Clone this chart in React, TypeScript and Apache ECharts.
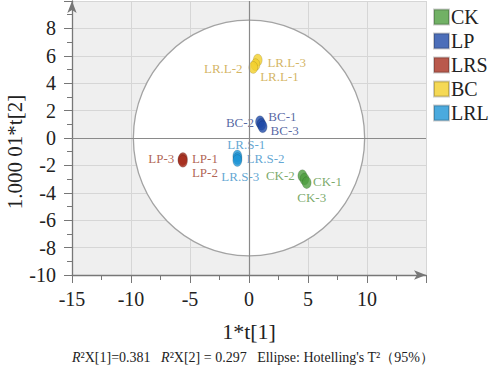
import React, { useEffect, useRef } from "react";
import * as echarts from "echarts";

const FONT = "Liberation Serif";

// Legend entries (as printed in the reference legend)
const legendNames = ["CK", "LP", "LRS", "BC", "LRL"];

// Score points per legend series
const ckNames = ["CK-2", "CK-1", "CK-3"];
const ckX = [4.52, 4.7, 4.89];
const ckY = [-2.75, -3.0, -3.26];

const lpNames = ["BC-2", "BC-1", "BC-3"];
const lpX = [0.93, 1.05, 1.16];
const lpY = [1.19, 1.0, 0.82];

const lrsNames = ["LP-1", "LP-3", "LP-2"];
const lrsX = [-5.6, -5.65, -5.6];
const lrsY = [-1.5, -1.6, -1.7];

const bcNames = ["LR.L-3", "LR.L-1", "LR.L-2"];
const bcX = [0.74, 0.55, 0.36];
const bcY = [5.69, 5.35, 5.15];

const lrlNames = ["LR.S-1", "LR.S-2", "LR.S-3"];
const lrlX = [-0.99, -0.97, -0.99];
const lrlY = [-1.31, -1.5, -1.65];

// Hotelling's T2 ellipse: centre and semi-axes
const ellipseCenter = [0, 0];
const ellipseRadii = [9.8, 8.6];

// axis titles and caption
const xTitle = "1*t[1]";
const yTitle = "1.000 01*t[2]";
const caption = "{i|R}²X[1]=0.381   {i|R}²X[2] = 0.297   Ellipse: Hotelling's T²（95%）";

// label placement (pixel offsets from point centre)
const labelOffsets: Record<string, [number, number]> = {
  "CK-2": [-22, 0],
  "CK-1": [23, 2],
  "CK-3": [5, 15],
  "BC-2": [-20, 1],
  "BC-1": [21, -8],
  "BC-3": [22, 4],
  "LP-1": [22, 0],
  "LP-3": [-21, -1],
  "LP-2": [22, 11],
  "LR.L-3": [29, 2],
  "LR.L-1": [24, 12],
  "LR.L-2": [-30, 1],
  "LR.S-1": [9, -11],
  "LR.S-2": [28, 0],
  "LR.S-3": [3, 16],
};

const legendColors = ["#4cae4c", "#1d4fbf", "#c0392b", "#f6d12e", "#1a9be0"];
const dotColors = ["#4e9e3e", "#1f4aa8", "#a8301f", "#f2cf2a", "#1e95d6"];
const labelColors = ["#5a9444", "#2d3f8c", "#9c3b27", "#c9a23a", "#3a8fc8"];

function buildData(names: string[], xs: number[], ys: number[]) {
  return names.map((n, i) => ({
    name: n,
    value: [xs[i], ys[i]],
    label: { offset: labelOffsets[n] },
  }));
}

export default function App() {
  const ref = useRef<HTMLDivElement>(null);
  useEffect(() => {
    if (!ref.current) return;
    const chart = echarts.init(ref.current, undefined, { renderer: "svg" });
    const groups = [
      buildData(ckNames, ckX, ckY),
      buildData(lpNames, lpX, lpY),
      buildData(lrsNames, lrsX, lrsY),
      buildData(bcNames, bcX, bcY),
      buildData(lrlNames, lrlX, lrlY),
    ];
    const scatterSeries: any[] = groups.map((d, i) => ({
      type: "scatter",
      name: legendNames[i],
      data: d,
      z: 3,
      symbol: "circle",
      symbolSize: [9, 12],
      color: legendColors[i],
      itemStyle: {
        color: dotColors[i],
        borderColor: "rgba(0,0,0,0.25)",
        borderWidth: 0.6,
      },
      label: {
        show: true,
        position: "inside",
        formatter: "{b}",
        color: labelColors[i],
        fontFamily: FONT,
        fontSize: 13,
      },
      emphasis: { disabled: true },
    }));
    scatterSeries[0].markLine = {
      silent: true,
      symbol: "none",
      label: { show: false },
      lineStyle: { color: "#8a8a8a", width: 1.2, type: "solid" },
      data: [{ xAxis: 0 }, { yAxis: 0 }],
    };

    chart.setOption({
      animation: false,
      textStyle: { fontFamily: FONT },
      grid: {
        left: 72,
        top: 1,
        right: 67,
        bottom: 93,
        containLabel: false,
        outerBoundsMode: "none",
        show: true,
        backgroundColor: "#efefef",
        borderWidth: 0,
      },
      legend: {
        data: legendNames,
        orient: "vertical",
        left: 428,
        top: 2,
        icon: "rect",
        itemWidth: 15,
        itemHeight: 15,
        itemGap: 4,
        textStyle: { fontFamily: FONT, fontSize: 20, color: "#222", lineHeight: 20, padding: [0, 0, 0, -3] },
      },
      xAxis: {
        type: "value",
        min: -15,
        max: 15,
        interval: 5,
        name: xTitle,
        nameLocation: "middle",
        nameGap: 45,
        nameTextStyle: { fontFamily: FONT, fontSize: 22, color: "#222" },
        axisLine: {
          show: true,
          onZero: false,
          symbol: ["none", "arrow"],
          symbolSize: [7, 12],
          lineStyle: { color: "#777", width: 1.3 },
        },
        axisTick: { show: true, length: 8, lineStyle: { color: "#777" } },
        minorTick: { show: true, splitNumber: 2, length: 5, lineStyle: { color: "#777" } },
        axisLabel: {
          showMaxLabel: false,
          margin: 14,
          fontFamily: FONT,
          fontSize: 20,
          color: "#222",
        },
        splitLine: { show: true, lineStyle: { color: "#d6d6d6", width: 1 } },
      },
      yAxis: {
        type: "value",
        min: -10,
        max: 10,
        interval: 2,
        axisLine: {
          show: true,
          onZero: false,
          symbol: ["none", "arrow"],
          symbolSize: [7, 12],
          lineStyle: { color: "#777", width: 1.3 },
        },
        axisTick: { show: true, length: 8, lineStyle: { color: "#777" } },
        minorTick: { show: true, splitNumber: 2, length: 5, lineStyle: { color: "#777" } },
        axisLabel: {
          showMaxLabel: false,
          margin: 16,
          fontFamily: FONT,
          fontSize: 20,
          color: "#222",
        },
        splitLine: { show: true, lineStyle: { color: "#d6d6d6", width: 1 } },
      },
      graphic: [
        {
          type: "text",
          x: 15,
          y: 152,
          rotation: Math.PI / 2,
          style: {
            text: yTitle,
            fontFamily: FONT,
            fontSize: 21,
            fill: "#222",
            textAlign: "center",
            textVerticalAlign: "middle",
          },
        },
        {
          type: "text",
          left: 72,
          top: 350,
          style: {
            text: caption,
            rich: {
              i: { fontStyle: "italic", fontFamily: FONT, fontSize: 14, fill: "#222" },
            },
            fontFamily: FONT,
            fontSize: 14,
            fill: "#222",
          },
        },
      ],
      series: [
        {
          type: "custom",
          silent: true,
          z: 1,
          data: [[ellipseCenter[0], ellipseCenter[1], ellipseRadii[0], ellipseRadii[1]]],
          encode: { x: 0, y: 1 },
          renderItem: (params: any, api: any) => {
            const c = api.coord([api.value(0), api.value(1)]);
            const s = api.size([api.value(2), api.value(3)]);
            return {
              type: "ellipse",
              shape: { cx: c[0], cy: c[1], rx: s[0], ry: s[1] },
              style: { fill: "#ffffff", stroke: "#a3a3a3", lineWidth: 1.3 },
            };
          },
        },
        ...scatterSeries,
      ],
    });
    return () => chart.dispose();
  }, []);
  return <div ref={ref} style={{ width: 493, height: 368, position: "absolute", left: 0, top: 0 }} />;
}
